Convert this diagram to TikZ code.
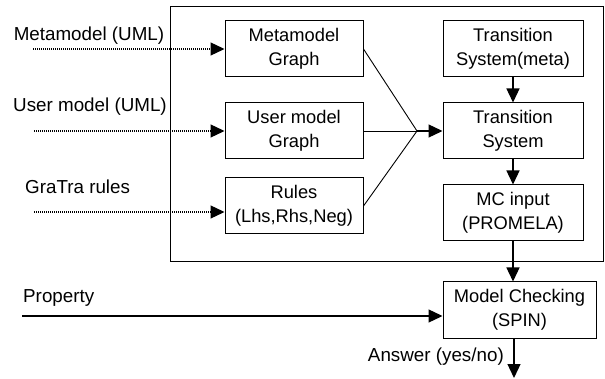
\documentclass[tikz,border=0pt]{standalone}
\usepackage{fontspec}
\setmainfont{Liberation Sans}
\usetikzlibrary{arrows.meta}
\begin{document}
\begin{tikzpicture}[x=1pt,y=-1pt,
  box/.style={draw,line width=1pt,minimum width=138pt,minimum height=56pt,inner sep=0pt,align=center,font=\fontsize{18.3}{24}\selectfont},
  lbl/.style={inner sep=0pt,font=\fontsize{18.8}{22}\selectfont},
  arr/.style={line width=1.3pt,-{Triangle[length=14pt,width=13pt]}},
  dotarr/.style={line width=1.3pt,dash pattern=on 1pt off 1pt,-{Triangle[length=14pt,width=13pt]}},
  thin/.style={line width=0.9pt}]
\useasboundingbox (0,0) rectangle (605,379);
\draw[line width=1pt] (170,7) rectangle (603,262);
\node[box] (mmg) at (294,49) {Metamodel\\Graph};
\node[box] (umg) at (294,131) {User model\\Graph};
\node[box] (rules) at (294,206) {Rules\\(Lhs,Rhs,Neg)};
\node[box,minimum width=140pt] (tsm) at (513,49) {Transition\\System(meta)};
\node[box,minimum width=140pt] (ts) at (513,131) {Transition\\System};
\node[box,minimum width=140pt] (mc) at (513,213) {MC input\\(PROMELA)};
\node[box,minimum width=153pt] (spin) at (519.5,310) {Model Checking\\(SPIN)};
\node[lbl] (lm) at (89,36) {Metamodel (UML)};
\node[lbl] (lu) at (90,107) {User model (UML)};
\node[lbl,anchor=west] (lg) at (25,187) {GraTra rules};
\node[lbl,anchor=west] (lp) at (23,298) {Property};
\node[lbl,anchor=east] (la) at (504,357) {Answer (yes/no)};
\coordinate (m0) at (33,49);
\coordinate (u0) at (34,131);
\coordinate (g0) at (34,212);
\coordinate (p0) at (22,316);
\coordinate (J) at (417,131);
\coordinate (a1) at (514,378);
\draw[dotarr] (m0) -- (mmg.west);
\draw[dotarr] (u0) -- (umg.west);
\draw[dotarr] (g0) -- (g0 -| rules.west);
\draw[thin] (mmg.east) -- (J);
\draw[thin] (umg.east) -- (J);
\draw[thin] (rules.east) -- (J);
\draw[arr] (J) -- (ts.west);
\draw[arr] (tsm.south) -- (ts.north);
\draw[arr] (ts.south) -- (mc.north);
\draw[arr] (mc.south) -- (mc.south |- spin.north);
\draw[arr] (p0) -- (p0 -| spin.west);
\draw[arr] (a1 |- spin.south) -- (a1);
\end{tikzpicture}
\end{document}
